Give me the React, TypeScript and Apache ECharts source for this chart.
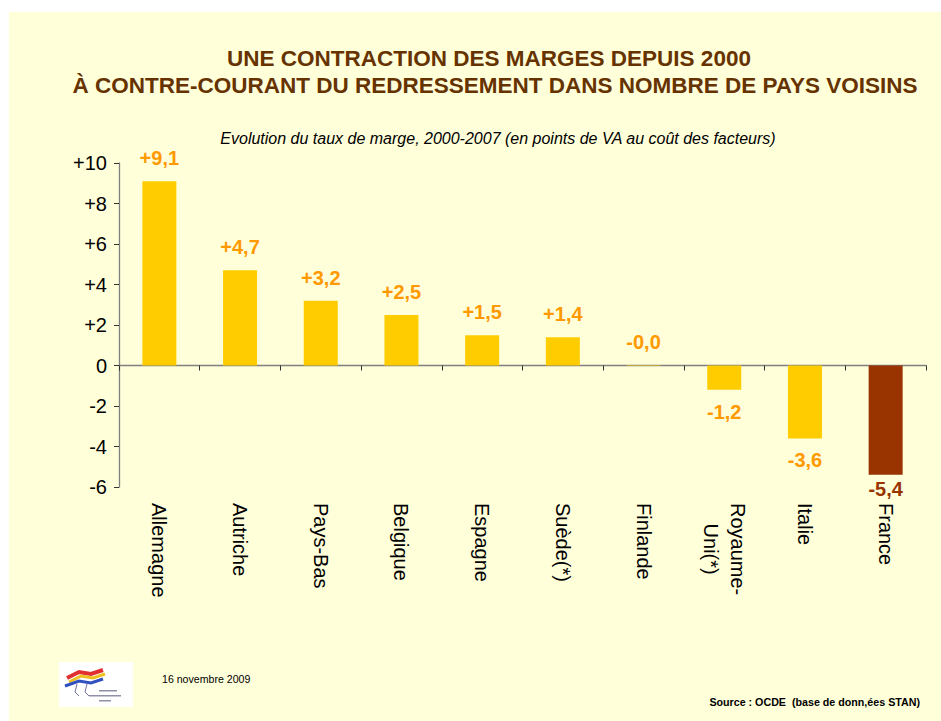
import React, { useEffect, useRef } from "react";
import * as echarts from "echarts";

const categories = [
  "Allemagne",
  "Autriche",
  "Pays-Bas",
  "Belgique",
  "Espagne",
  "Suède(*)",
  "Finlande",
  "Royaume-\nUni(*)",
  "Italie",
  "France",
];
const values = [9.1, 4.7, 3.2, 2.5, 1.5, 1.4, -0.02, -1.2, -3.6, -5.4];
const highlightIndex = 9;
const yTicks = { min: -6, max: 10, interval: 2 };

const titleLines = [
  "UNE CONTRACTION DES MARGES DEPUIS 2000",
  "À CONTRE-COURANT DU REDRESSEMENT DANS NOMBRE DE PAYS VOISINS",
];
const subtitle =
  "Evolution du taux de marge, 2000-2007 (en points de VA au coût des facteurs)";
const dateText = "16 novembre 2009";
const sourceText = "Source : OCDE  (base de donn,ées STAN)";

const FONT = "Arial, 'Liberation Sans', Helvetica, sans-serif";

function fmt(v: number): string {
  return (v < 0 ? "-" : "+") + Math.abs(v).toFixed(1).replace(".", ",");
}

export default function App() {
  const ref = useRef<HTMLDivElement>(null);

  useEffect(() => {
    document.body.style.margin = "0";
    if (!ref.current) return;
    const chart = echarts.init(ref.current, undefined, { renderer: "svg" });

    const data = values.map((v, i) => {
      const isHi = i === highlightIndex;
      const color = isHi ? "#993300" : "#FFCC00";
      const labelColor = isHi ? "#993300" : "#FF9900";
      const nearZero = v < 0 && v > -0.05;
      const pos = nearZero ? "top" : v < 0 ? "bottom" : "top";
      return {
        value: v,
        itemStyle: { color },
        label: {
          show: true,
          position: pos,
          distance: isHi ? 4 : nearZero ? 14 : v < 0 ? 12 : 13,
          color: labelColor,
          fontWeight: "bold",
          fontSize: 20,
          fontFamily: FONT,
          formatter: () => fmt(v),
        },
      };
    });

    const option: any = {
      animation: false,
      backgroundColor: "#FFFFDA",
      grid: { left: 110, right: 15, top: 151, bottom: 234, containLabel: false },
      xAxis: [
        {
          type: "category",
          data: categories,
          position: "bottom",
          axisLine: { show: false, onZero: false },
          axisTick: { show: false },
          axisLabel: {
            rotate: -90,
            fontSize: 20,
            fontFamily: FONT,
            color: "#000",
            margin: 16,
            interval: 0,
            lineHeight: 27,
            formatter: (val: string) =>
              val
                .split("\n")
                .map((s) => `{c|${s}}`)
                .join("\n"),
            rich: {
              c: {
                fontSize: 20,
                fontFamily: FONT,
                color: "#000",
                align: "center",
                lineHeight: 27,
              },
            },
          },
        },
        {
          type: "category",
          data: categories,
          position: "bottom",
          axisLine: { show: true, onZero: true, lineStyle: { color: "#7f7f7f", width: 1.3 } },
          axisTick: { show: true, length: 5, lineStyle: { color: "#333" } },
          axisLabel: { show: false },
        },
      ],
      yAxis: {
        type: "value",
        min: yTicks.min,
        max: yTicks.max,
        interval: yTicks.interval,
        axisLine: { show: true, lineStyle: { color: "#7f7f7f", width: 1.3 } },
        axisTick: { show: true, length: 5, lineStyle: { color: "#333" } },
        splitLine: { show: false },
        axisLabel: {
          fontSize: 20,
          fontFamily: FONT,
          color: "#000",
          margin: 12,
          formatter: (v: number) => (v > 0 ? "+" + v : String(v)),
        },
      },
      series: [
        {
          type: "bar",
          xAxisIndex: 0,
          data,
          barWidth: 34,
        },
      ],
      graphic: [
        {
          type: "text",
          x: 480,
          y: 46,
          style: {
            text: titleLines[0],
            fill: "#663300",
            font: `bold 22.5px ${FONT}`,
            align: "center",
            verticalAlign: "middle",
          },
        },
        {
          type: "text",
          x: 486,
          y: 73,
          style: {
            text: titleLines[1],
            fill: "#663300",
            font: `bold 22.5px ${FONT}`,
            align: "center",
            verticalAlign: "middle",
          },
        },
        {
          type: "text",
          x: 489,
          y: 126,
          style: {
            text: subtitle,
            fill: "#000",
            font: `italic 16px ${FONT}`,
            align: "center",
            verticalAlign: "middle",
          },
        },
        {
          type: "text",
          x: 153,
          y: 667,
          style: {
            text: dateText,
            fill: "#000",
            font: `10.6px ${FONT}`,
            align: "left",
            verticalAlign: "middle",
          },
        },
        {
          type: "text",
          x: 911,
          y: 690,
          style: {
            text: sourceText,
            fill: "#000",
            font: `bold 10.7px ${FONT}`,
            align: "right",
            verticalAlign: "middle",
          },
        },
        {
          type: "group",
          x: 50,
          y: 650,
          children: [
            { type: "rect", shape: { x: 0, y: 0, width: 74, height: 45 }, style: { fill: "#ffffff" } },
            { type: "polyline", shape: { points: [[8, 16], [20, 10], [32, 12], [44, 8]] }, style: { stroke: "#e03030", lineWidth: 4, fill: "none" } },
            { type: "polyline", shape: { points: [[10, 20], [22, 14], [34, 16], [46, 12]] }, style: { stroke: "#f0c020", lineWidth: 3, fill: "none" } },
            { type: "polyline", shape: { points: [[6, 24], [20, 19], [32, 21], [44, 17]] }, style: { stroke: "#3050c0", lineWidth: 3, fill: "none" } },
            { type: "polyline", shape: { points: [[18, 22], [16, 30], [20, 34]] }, style: { stroke: "#7070a0", lineWidth: 1, fill: "none" } },
            { type: "polyline", shape: { points: [[28, 22], [26, 30], [30, 34]] }, style: { stroke: "#7070a0", lineWidth: 1, fill: "none" } },
            { type: "rect", shape: { x: 40, y: 28, width: 18, height: 1.5 }, style: { fill: "#9090a8" } },
            { type: "rect", shape: { x: 30, y: 33, width: 32, height: 1.5 }, style: { fill: "#9090a8" } },
            { type: "rect", shape: { x: 40, y: 38, width: 12, height: 1.5 }, style: { fill: "#9090a8" } },
          ],
        },
      ],
    };

    chart.setOption(option);
    return () => chart.dispose();
  }, []);

  return (
    <div style={{ position: "relative", width: 941, height: 721, background: "#ffffff", overflow: "hidden" }}>
      <div ref={ref} style={{ position: "absolute", left: 9, top: 12, width: 932, height: 709 }} />
    </div>
  );
}
